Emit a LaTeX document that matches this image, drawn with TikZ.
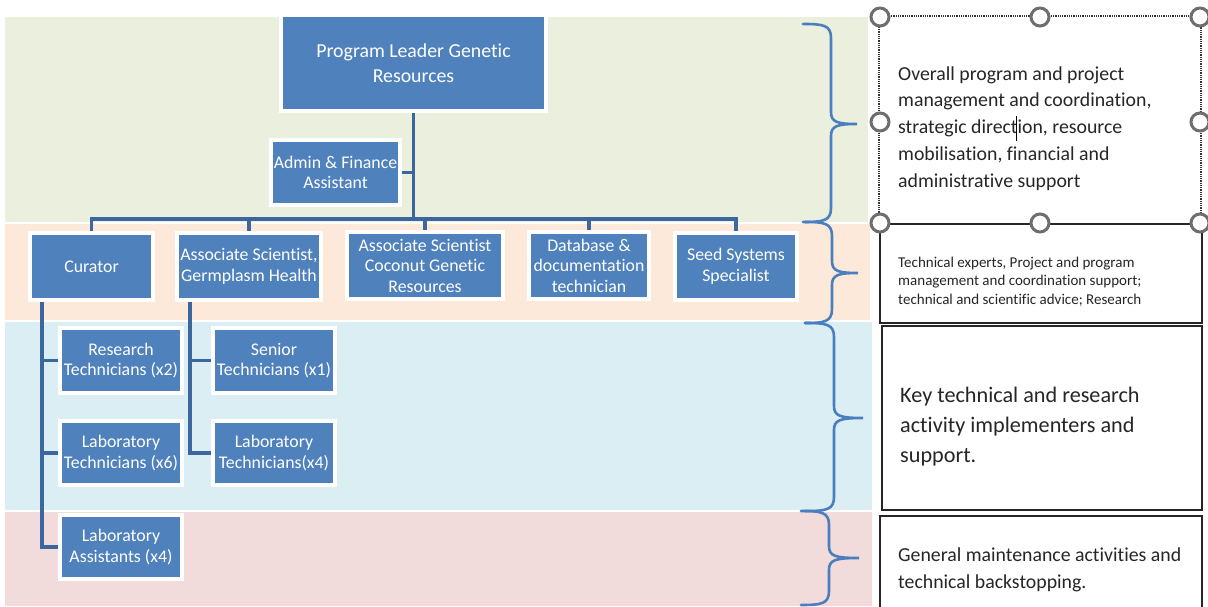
\documentclass[tikz,border=0pt]{standalone}
\usepackage{fontspec}
\setmainfont{Carlito}[Ligatures=NoCommon]
\usetikzlibrary{backgrounds}
\definecolor{boxblue}{HTML}{4F81BD}
\definecolor{connblue}{HTML}{3C669E}
\definecolor{braceblue}{HTML}{4A7EBF}
\definecolor{bandgreen}{HTML}{EBF0DE}
\definecolor{bandpeach}{HTML}{FDE9D9}
\definecolor{bandblue}{HTML}{DBEEF4}
\definecolor{bandpink}{HTML}{F2DCDB}
\definecolor{handlegray}{HTML}{6E6E6E}
\newcommand\mybrace[6]{% top, mid, bottom, xleft, xvert, xtip
  \draw[bracestyle] (#4,#1) .. controls ({#5-8},#1) and (#5,{#1+1}) .. (#5,{#1+14})
    -- (#5,{#2-12}) .. controls (#5,{#2-2}) and ({#5+6},#2) .. (#6,#2)
    .. controls ({#5+6},#2) and (#5,{#2+2}) .. (#5,{#2+12})
    -- (#5,{#3-14}) .. controls (#5,{#3-1}) and ({#5-8},#3) .. (#4,#3);}
\tikzset{
  orgbox/.style={draw=white, line width=4pt, fill=boxblue, text=white, align=center,
    inner sep=0pt, font=\fontsize{17.8}{20.5}\selectfont},
  conn/.style={draw=connblue, line width=3.5pt},
  bracestyle/.style={draw=braceblue, line width=2.6pt, line cap=round},
  descbox/.style={draw=black!85, line width=1.6pt, fill=white},
  handle/.style={circle, draw=handlegray, fill=white, line width=3pt, minimum size=18pt, inner sep=0pt},
  desctext/.style={align=left, anchor=west, inner sep=0pt, text=black!85}
}
\begin{document}
\begin{tikzpicture}[x=1pt,y=-1pt]
\useasboundingbox (0,0) rectangle (1208,607);
% org boxes
\node[orgbox, minimum width=265pt, minimum height=96pt, font=\fontsize{19.8}{25}\selectfont] (pl) at (413.5,63) {Program Leader Genetic\\Resources};
\node[orgbox, minimum width=129pt, minimum height=65pt] (adm) at (335.5,172.5) {Admin \& Finance\\Assistant};
\node[orgbox, minimum width=123pt, minimum height=67pt] (cur) at (91.5,266.5) {Curator};
\node[orgbox, minimum width=144pt, minimum height=67pt] (ag) at (249,266.5) {Associate Scientist,\\Germplasm Health};
\node[orgbox, minimum width=156pt, minimum height=67pt] (ac) at (425,265.5) {Associate Scientist\\Coconut Genetic\\Resources};
\node[orgbox, minimum width=120pt, minimum height=67pt] (db) at (589,265.5) {Database \&\\documentation\\technician};
\node[orgbox, minimum width=122pt, minimum height=67pt] (seed) at (736,266.5) {Seed Systems\\Specialist};
\node[orgbox, minimum width=122pt, minimum height=65pt] (rt) at (121,360.5) {Research\\Technicians (x2)};
\node[orgbox, minimum width=122pt, minimum height=64pt] (lt6) at (121,453) {Laboratory\\Technicians (x6)};
\node[orgbox, minimum width=122pt, minimum height=64pt] (la) at (121,547) {Laboratory\\Assistants (x4)};
\node[orgbox, minimum width=122pt, minimum height=65pt] (st) at (274,360.5) {Senior\\Technicians (x1)};
\node[orgbox, minimum width=122pt, minimum height=64pt] (lt4) at (274,453) {Laboratory\\Technicians(x4)};
\coordinate (bus) at (0,219);
\coordinate (cl) at (42,0);
\coordinate (al) at (190,0);
\begin{scope}[on background layer]
  \fill[bandgreen] (5,17) rectangle (868,222);
  \fill[bandpeach] (5,224) rectangle (870,320);
  \fill[bandblue] (5,322) rectangle (872,510);
  \fill[bandpink] (5,512) rectangle (872,606);
  \draw[conn] (pl.south) -- (pl.south |- bus);
  \draw[conn] (cur.north) |- (pl.south |- bus) -| (seed.north);
  \draw[conn] (ag.north) -- (ag.north |- bus);
  \draw[conn] (ac.north) -- (ac.north |- bus);
  \draw[conn] (db.north) -- (db.north |- bus);
  \draw[conn] (adm.east) -- (adm.east -| pl.south);
  \draw[conn] (cur.south -| cl) |- (la.west);
  \draw[conn] (cl |- rt.west) -- (rt.west);
  \draw[conn] (cl |- lt6.west) -- (lt6.west);
  \draw[conn] (ag.south -| al) |- (lt4.west);
  \draw[conn] (al |- st.west) -- (st.west);
\end{scope}
% braces
\mybrace{24}{124}{222}{803}{831}{857}
\mybrace{222}{273}{323}{805}{832}{858}
\mybrace{323}{418}{511}{805}{834}{863}
\mybrace{511}{558}{605}{801}{829}{859}
% description boxes
\node[descbox, draw=none, minimum width=320pt, minimum height=206pt, inner sep=0pt] (d1) at (1040,120) {};
\draw[black!80, line width=1.6pt, dash pattern=on 1pt off 0.8pt] (d1.north west) rectangle (d1.south east);
\node[descbox, minimum width=322pt, minimum height=99pt, inner sep=0pt] (d2) at (1041,273.5) {};
\node[descbox, minimum width=320pt, minimum height=184pt, inner sep=0pt] (d3) at (1042,418) {};
\node[descbox, minimum width=322pt, minimum height=100pt, inner sep=0pt] (d4) at (1041,566) {};
\node[desctext, font=\fontsize{19.8}{26.8}\selectfont] (t1) at (898,128.5) {Overall program and project\\management and coordination,\\strategic direction, resource\\mobilisation, financial and\\administrative support};
\draw[black, line width=1pt] (1016,116) -- (1016,141);
\node[desctext, font=\fontsize{15}{18.5}\selectfont] (t2) at (898,281.5) {Technical experts, Project and program\\management and coordination support;\\technical and scientific advice; Research};
\node[desctext, font=\fontsize{22.2}{30}\selectfont] (t3) at (900,427) {Key technical and research\\activity implementers and\\support.};
\node[desctext, font=\fontsize{19.8}{27}\selectfont] (t4) at (898,569.5) {General maintenance activities and\\technical backstopping.};
% selection handles
\foreach \hx/\hy/\hn in {880/17/h1,1040/17/h2,1200/17/h3,880/122/h4,1200/122/h5,880/223/h6,1040/223/h7,1200/223/h8}
  \node[handle] (\hn) at (\hx,\hy) {};
\end{tikzpicture}
\end{document}
